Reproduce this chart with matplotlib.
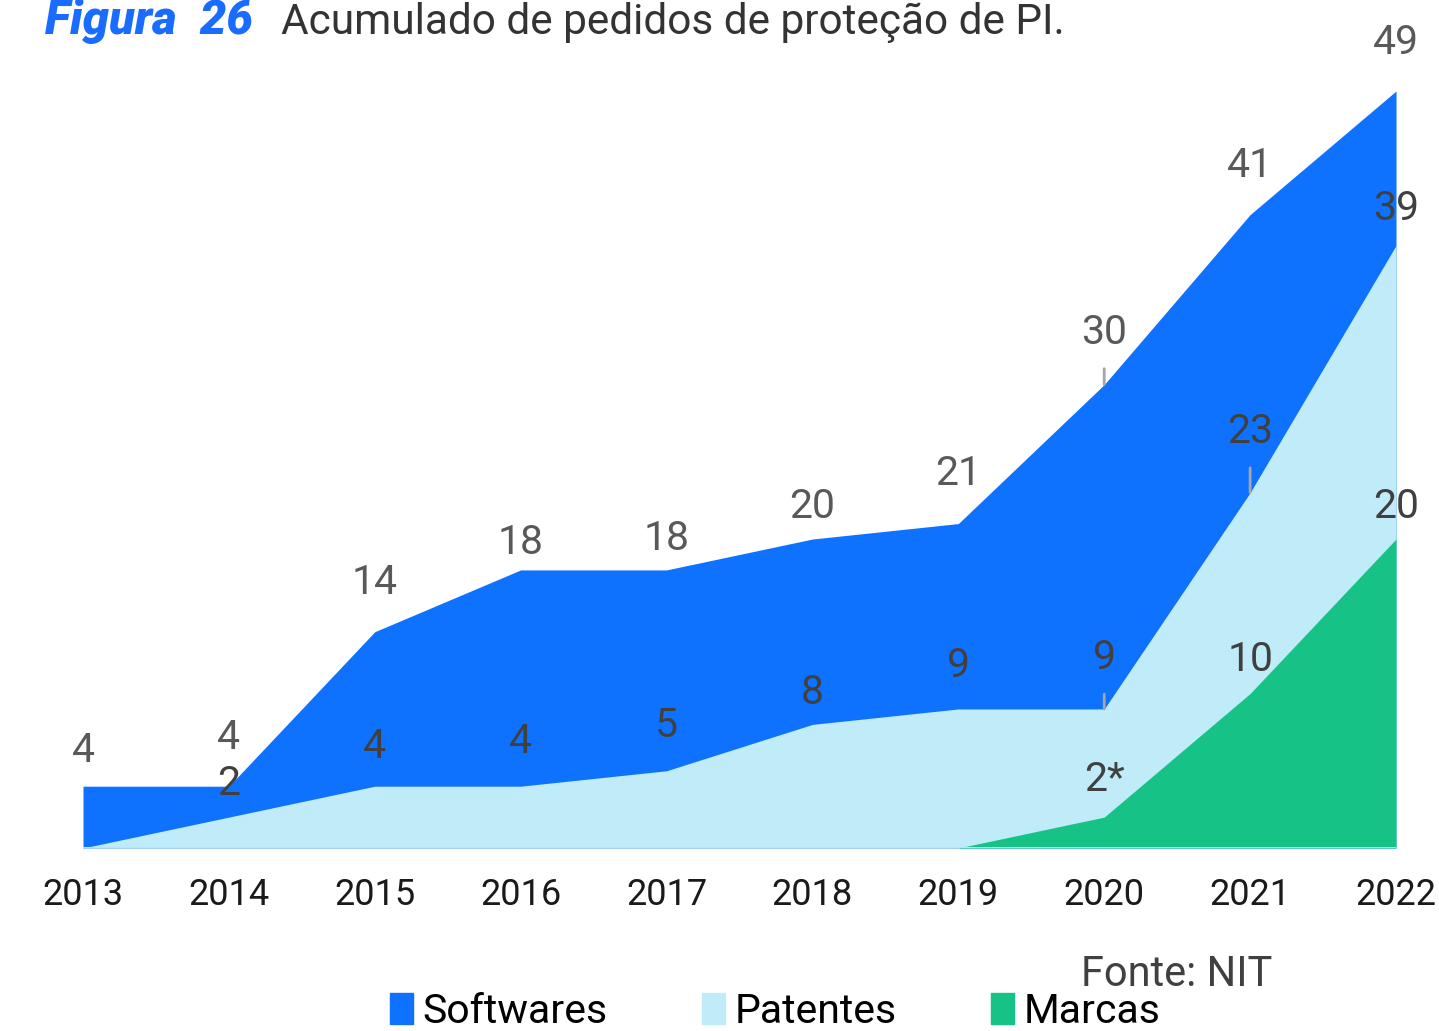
import matplotlib
matplotlib.use("Agg")
import matplotlib.pyplot as plt
from matplotlib.patches import Patch

plt.rcParams['font.family'] = ['Roboto', 'DejaVu Sans']

years = [2013, 2014, 2015, 2016, 2017, 2018, 2019, 2020, 2021, 2022]
softwares = [4, 4, 14, 18, 18, 20, 21, 30, 41, 49]
patentes = [0, 2, 4, 4, 5, 8, 9, 9, 23, 39]
marcas_years = [2019, 2020, 2021, 2022]
marcas = [0, 2, 10, 20]

soft_labels = ["4", "4", "14", "18", "18", "20", "21", "30", "41", "49"]
pat_labels = [None, "2", "4", "4", "5", "8", "9", "9", "23", "39"]
marc_labels = [None, "2*", "10", "20"]

# label offsets above point (pixels) and leader lines
soft_off = [36, 49, 49, 27, 31, 33, 50, 52, 49, 49]
soft_lead = [False] * 7 + [True, False, False]
pat_off = [0, 34, 40, 45, 45, 32, 43, 51, 61, 37]
pat_lead = [False] * 7 + [True, True, False]
marc_off = [0, 38, 34, 33]

C_SOFT = "#0F72FF"
C_PAT = "#BFECF8"
C_MARC = "#16C285"

W, H = 1439, 1031
fig = plt.figure(figsize=(W / 100, H / 100), dpi=100)
x0, x1 = 83, 1396
yb = 848
ppu = (848 - 91) / 49.0
ymax = 52
ytop = yb - ymax * ppu
ax = fig.add_axes([x0 / W, (H - yb) / H, (x1 - x0) / W, (yb - ytop) / H])
ax.set_xlim(2013, 2022)
ax.set_ylim(0, ymax)
ax.margins(0)

ax.fill_between(years, softwares, 0, color=C_SOFT, linewidth=0, zorder=1)
ax.fill_between(years, patentes, 0, color=C_PAT, linewidth=0, zorder=2)
ax.fill_between(marcas_years, marcas, 0, color=C_MARC, linewidth=0, zorder=3)
ax.axhline(0, color="#d9d9d9", linewidth=2.2, zorder=4)

for s in ax.spines.values():
    s.set_visible(False)
ax.set_yticks([])
ax.set_xticks(years)
ax.set_xticklabels([str(y) for y in years])
ax.tick_params(axis='x', length=0, pad=21, labelsize=26, labelcolor="#1a1a1a")

FS = 29.5
PX = 72 / 100.0


def label(xv, yv, txt, off, lead, color):
    if txt is None:
        return
    kw = {}
    if lead:
        kw['arrowprops'] = dict(arrowstyle='-', color="#a6a6a6", lw=2,
                                shrinkA=10, shrinkB=0)
    ax.annotate(txt, xy=(xv, yv), xytext=(0, off * PX), textcoords='offset points',
                ha='center', va='center', fontsize=FS, color=color,
                annotation_clip=False, zorder=6, **kw)


for i, y in enumerate(years):
    label(y, softwares[i], soft_labels[i], soft_off[i], soft_lead[i], "#595959")
    label(y, patentes[i], pat_labels[i], pat_off[i], pat_lead[i], "#404040")
for i, y in enumerate(marcas_years):
    label(y, marcas[i], marc_labels[i], marc_off[i], False, "#404040")

# Title
fig.text(45 / W, 1 - 34 / H, "Figura  26", fontsize=34, fontweight='heavy',
         fontstyle='italic', color="#1a6cff", va='baseline', ha='left')
fig.text(281 / W, 1 - 34 / H, "Acumulado de pedidos de proteção de PI.",
         fontsize=30.5, color="#333333", va='baseline', ha='left')

fig.text(1272 / W, 1 - 986 / H, "Fonte: NIT", fontsize=30, color="#404040",
         va='baseline', ha='right')

handles = [Patch(color=C_SOFT), Patch(color=C_PAT), Patch(color=C_MARC)]
leg = fig.legend(handles, ["Softwares", "Patentes", "Marcas"], loc='upper left',
                 bbox_to_anchor=(390 / W, 1 - 992 / H), ncol=3, frameon=False,
                 fontsize=29.5, handlelength=0.55, handleheight=0.8,
                 handletextpad=0.25, columnspacing=2.3, borderpad=0, borderaxespad=0)
for t in leg.get_texts():
    t.set_color("#000000")

fig.savefig("out.png", dpi=100)
